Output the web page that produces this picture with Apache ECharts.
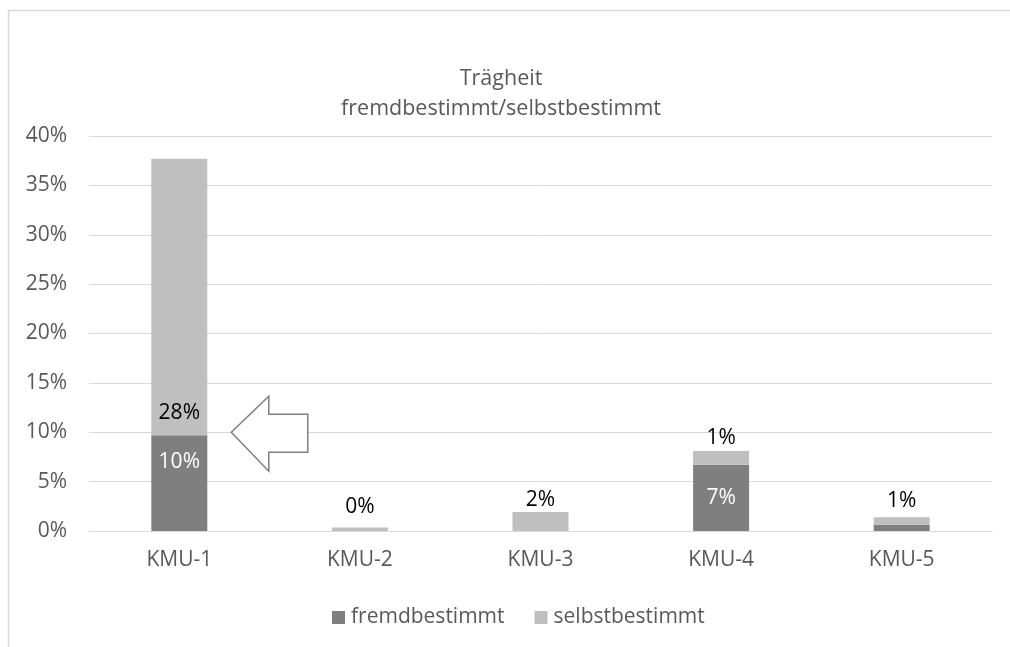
<!DOCTYPE html>
<html>
<head>
<meta charset="utf-8">
<script src="https://cdn.jsdelivr.net/npm/echarts@6/dist/echarts.min.js"></script>
<style>
  html, body { margin: 0; padding: 0; background: #ffffff; }
  #chart { width: 1010px; height: 647px; }
</style>
</head>
<body>
<div id="chart"></div>
<script>
// Anteile in Prozent je Unternehmen
const categories = ['KMU-1', 'KMU-2', 'KMU-3', 'KMU-4', 'KMU-5'];
const fremdbestimmt = [9.7, 0, 0, 6.7, 0.64];
const selbstbestimmt = [28.0, 0.35, 1.92, 1.4, 0.75];
const yTicks = [0, 5, 10, 15, 20, 25, 30, 35, 40];

const FONT = '"Open Sans", "Noto Sans", sans-serif';
const FS = 21;
const pct = p => Math.round(p.value) + '%';

// Abstand der Beschriftung über dem Balken (selbstbestimmt)
const topDistance = [12, 10, 2, 2, 6];

// Beschriftungen: fremdbestimmt weiß im Balken, selbstbestimmt schwarz
const fremdData = fremdbestimmt.map((v, i) => ({
  value: v,
  label: {
    show: v >= 2,
    position: i === 0 ? 'insideTop' : 'inside',
    distance: 16,
    color: '#ffffff'
  }
}));
const selbstData = selbstbestimmt.map((v, i) => ({
  value: v,
  label: {
    show: true,
    position: i === 0 ? 'insideBottom' : 'top',
    distance: topDistance[i],
    color: '#000000'
  }
}));

const chart = echarts.init(document.getElementById('chart'), null, { renderer: 'canvas' });

chart.setOption({
  animation: false,
  backgroundColor: '#ffffff',
  title: {
    text: 'Trägheit\nfremdbestimmt/selbstbestimmt',
    left: 496,
    textAlign: 'center',
    top: 59,
    textStyle: { fontFamily: FONT, fontSize: 21.5, fontWeight: 'normal', color: '#595959', lineHeight: 30 }
  },
  legend: {
    top: 602,
    left: 327,
    itemWidth: 13,
    itemHeight: 13,
    itemGap: 30,
    icon: 'rect',
    textStyle: { fontFamily: FONT, fontSize: FS, color: '#595959', padding: [0, 0, 0, 1] },
    data: ['fremdbestimmt', 'selbstbestimmt']
  },
  grid: { left: 89, right: 18, top: 136, bottom: 116, containLabel: false },
  xAxis: {
    type: 'category',
    data: categories,
    axisLine: { show: true, lineStyle: { color: '#d9d9d9', width: 1 } },
    axisTick: { show: false },
    axisLabel: { fontFamily: FONT, fontSize: FS, color: '#595959', margin: 19 }
  },
  yAxis: {
    type: 'value',
    min: yTicks[0],
    max: yTicks[yTicks.length - 1],
    interval: 5,
    axisLine: { show: false },
    axisTick: { show: false },
    splitLine: { lineStyle: { color: '#d9d9d9', width: 1 } },
    axisLabel: { fontFamily: FONT, fontSize: FS, color: '#595959', margin: 22, formatter: '{value}%' }
  },
  series: [
    {
      name: 'fremdbestimmt',
      type: 'bar',
      stack: 'gesamt',
      barWidth: '31%',
      itemStyle: { color: '#7f7f7f' },
      label: { fontFamily: FONT, fontSize: FS, formatter: pct },
      data: fremdData
    },
    {
      name: 'selbstbestimmt',
      type: 'bar',
      stack: 'gesamt',
      barWidth: '31%',
      itemStyle: { color: '#bfbfbf' },
      label: { fontFamily: FONT, fontSize: FS, formatter: pct },
      data: selbstData
    }
  ]
});

// Rahmen und Hinweispfeil auf den fremdbestimmten Anteil von KMU-1
const tip = chart.convertToPixel({ gridIndex: 0 }, [categories[0], 10]);
const tx = tip[0] + 52, ty = tip[1];
chart.setOption({
  graphic: [
    {
      type: 'rect',
      shape: { x: 8.5, y: 10.5, width: 1100, height: 800 },
      style: { fill: 'none', stroke: '#d9d9d9', lineWidth: 1.5 },
      silent: true
    },
    {
      type: 'polygon',
      shape: {
        points: [
          [tx, ty],
          [tx + 37.5, ty - 36],
          [tx + 37.5, ty - 18],
          [tx + 76.5, ty - 18],
          [tx + 76.5, ty + 20],
          [tx + 37.5, ty + 20],
          [tx + 37.5, ty + 39]
        ]
      },
      style: { fill: '#ffffff', stroke: '#7f7f7f', lineWidth: 1.5 },
      z: 10,
      silent: true
    }
  ]
});
</script>
</body>
</html>
